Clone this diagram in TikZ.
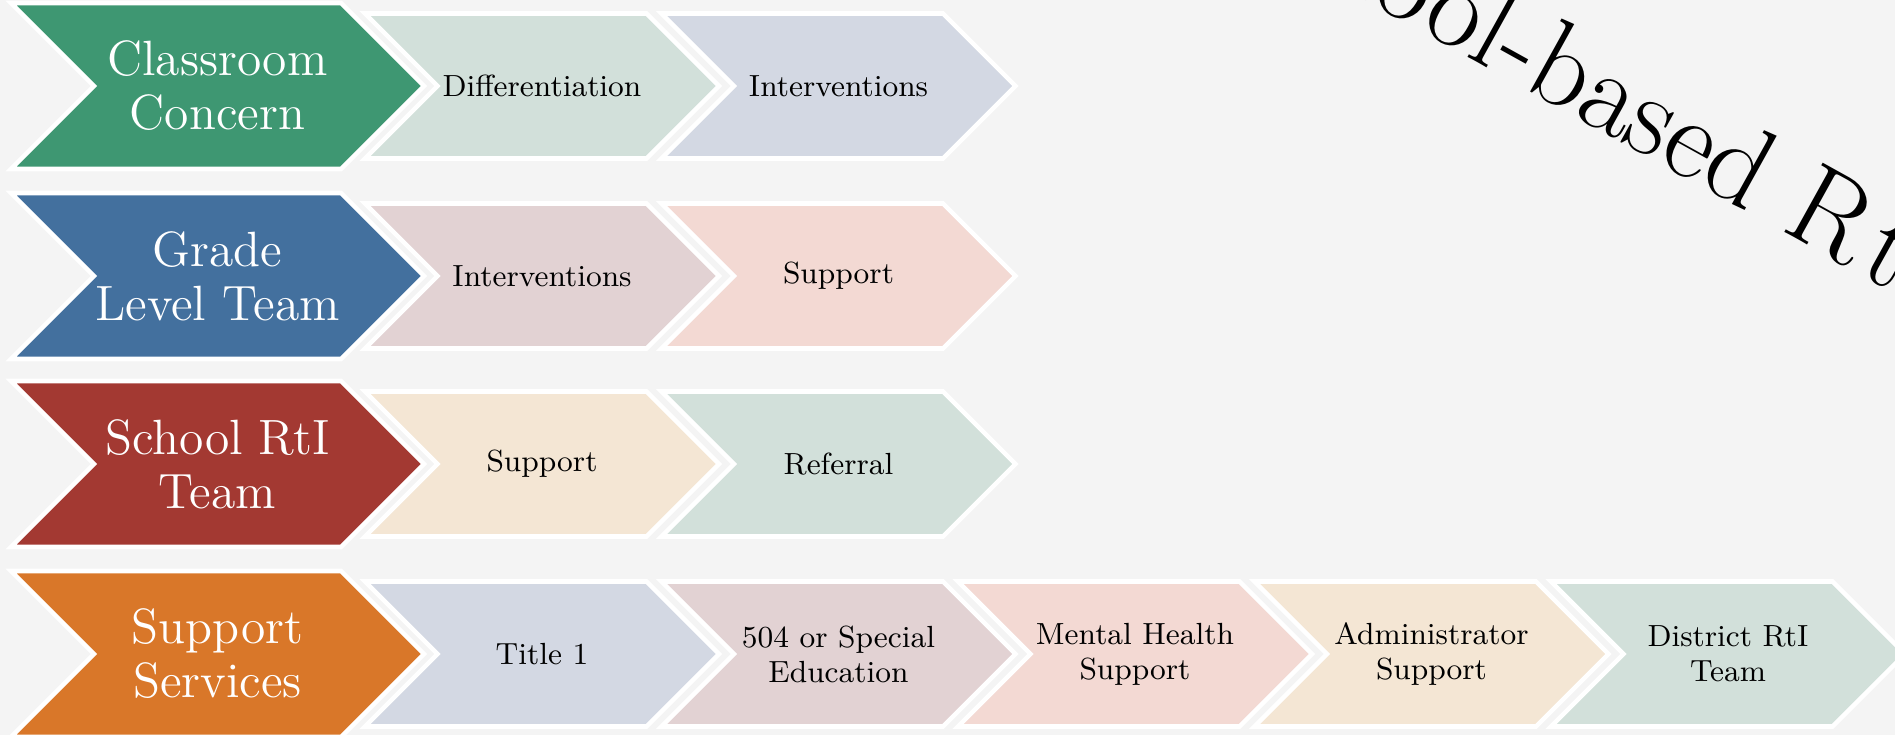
\documentclass[tikz,border=0pt]{standalone}
\usetikzlibrary{shapes.symbols}

\definecolor{bgcol}{RGB}{244,244,244}
\definecolor{cgreen}{RGB}{62,151,114}
\definecolor{cblue}{RGB}{67,112,158}
\definecolor{cred}{RGB}{163,57,50}
\definecolor{corange}{RGB}{217,119,41}
\definecolor{pgreen}{RGB}{210,224,218}
\definecolor{pblue}{RGB}{211,216,227}
\definecolor{pmauve}{RGB}{226,210,211}
\definecolor{ppink}{RGB}{243,217,211}
\definecolor{pbeige}{RGB}{244,230,212}

\begin{document}
\begin{tikzpicture}[
    lead/.style={signal, signal from=west, signal to=east, signal pointer angle=90,
      draw=white, line width=1.3pt, text=white, align=center, inner sep=0pt,
      minimum width=4.13cm, minimum height=1.66cm,
      font=\fontsize{14.1}{15.4}\selectfont},
    stepbox/.style={signal, signal from=west, signal to=east, signal pointer angle=90,
      draw=white, line width=1.3pt, text=black, align=center, inner sep=0pt,
      minimum width=3.54cm, minimum height=1.45cm,
      font=\fontsize{8.7}{10}\selectfont}
    ]

    % Page and background
    \useasboundingbox (0,0) rectangle (18.95,7.35);
    \clip (0,0) rectangle (18.95,7.35);
    \fill[bgcol] (0,0) rectangle (18.95,7.35);

    % Title, running off the top right corner
    \node[rotate=-29, anchor=base west, inner sep=0pt,
      font=\fontsize{33}{33}\selectfont] (title) at (12.26,8.12) {School-based R\kern0.08em tI};

    % Row 1: classroom
    \node[lead, fill=cgreen] (cc) at (2.175,6.49) {Classroom\\Concern};
    \node[stepbox, fill=pgreen] (dif) at ([xshift=3.245cm]cc) {Differentiation};
    \node[stepbox, fill=pblue] (int1) at ([xshift=2.965cm]dif) {Interventions};

    % Row 2: grade level
    \node[lead, fill=cblue] (glt) at (2.175,4.59) {Grade\\Level Team};
    \node[stepbox, fill=pmauve] (int2) at ([xshift=3.245cm]glt) {Interventions};
    \node[stepbox, fill=ppink] (sup1) at ([xshift=2.965cm]int2) {Support};

    % Row 3: school team
    \node[lead, fill=cred] (srt) at (2.175,2.71) {School RtI\\Team};
    \node[stepbox, fill=pbeige] (sup2) at ([xshift=3.245cm]srt) {Support};
    \node[stepbox, fill=pgreen] (ref) at ([xshift=2.965cm]sup2) {Referral};

    % Row 4: support services
    \node[lead, fill=corange] (ss) at (2.175,0.81) {Support\\Services};
    \node[stepbox, fill=pblue] (t1) at ([xshift=3.245cm]ss) {Title 1};
    \node[stepbox, fill=pmauve] (sped) at ([xshift=2.965cm]t1) {504 or Special\\Education};
    \node[stepbox, fill=ppink] (mh) at ([xshift=2.965cm]sped) {Mental Health\\Support};
    \node[stepbox, fill=pbeige] (adm) at ([xshift=2.965cm]mh) {Administrator\\Support};
    \node[stepbox, fill=pgreen] (drt) at ([xshift=2.965cm]adm) {District RtI\\Team};

  \end{tikzpicture}
\end{document}
